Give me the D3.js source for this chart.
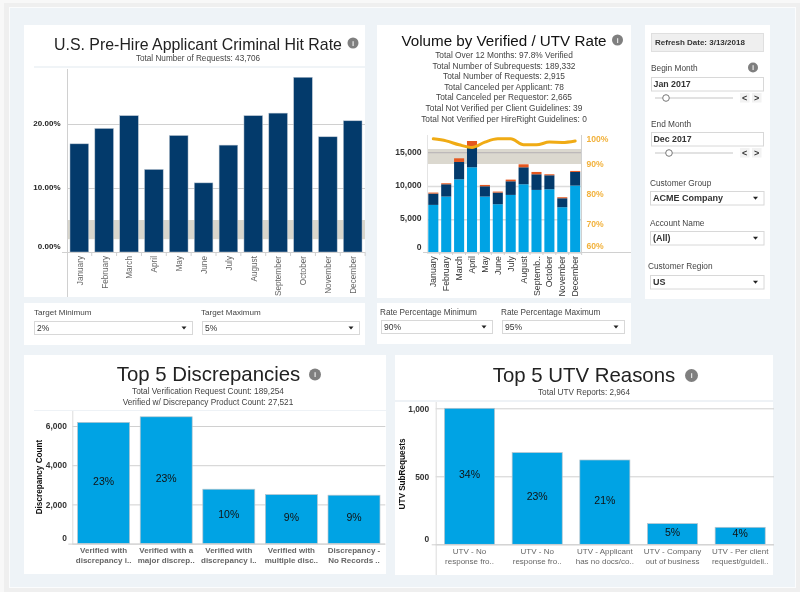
<!DOCTYPE html>
<html><head><meta charset="utf-8">
<script src="https://cdnjs.cloudflare.com/ajax/libs/d3/7.8.5/d3.min.js"></script>
<style>
html,body{margin:0;padding:0;background:#f2f2f2;overflow:hidden}
svg{display:block;filter:blur(.4px)}
text{font-family:"Liberation Sans",Arial,sans-serif}
</style></head><body>
<svg id="c" width="800" height="592"></svg>
<script>
const months=["January","February","March","April","May","June","July","August","September","October","November","December"];
const monthLabels2=["January","February","March","April","May","June","July","August","Septemb..","October","November","December"];
const hitRate=[16.9,19.3,21.3,12.9,18.2,10.8,16.7,21.3,21.7,27.3,18.0,20.5];
const hitTicks=[0,10,20];
const verified=[7150,8400,11000,12800,8400,7250,8650,10250,9400,9500,6800,10050];
const utv=[1700,1850,2600,3100,1550,1750,2050,2550,2350,2100,1350,2050];
const canceled=[150,150,550,850,200,150,250,450,350,150,150,150];
const verifiedRate=[98.4,97.7,96.4,95.5,97.3,98.4,98.4,96.4,96.4,97.3,97.2,97.7];
const volumeTicks=[0,5000,10000,15000];
const rateTicks=[60,70,80,90,100];
const discLabels=[["Verified with","discrepancy i.."],["Verified with a","major discrep.."],["Verified with","discrepancy i.."],["Verified with","multiple disc.."],["Discrepancy -","No Records .."]];
const discValues=[6185,6470,2775,2500,2470];
const discPct=["23%","23%","10%","9%","9%"];
const discTicks=[0,2000,4000,6000];
const utvLabels=[["UTV - No","response fro.."],["UTV - No","response fro.."],["UTV - Applicant","has no docs/co.."],["UTV - Company","out of business"],["UTV - Per client","request/guideli.."]];
const utvValues=[1000,674,620,152,125];
const utvPct=["34%","23%","21%","5%","4%"];
const utvTicks=[0,500,1000];
const volumeLines=["Total Over 12 Months: 97.8% Verified","Total Number of Subrequests: 189,332","Total Number of Requests: 2,915","Total Canceled per Applicant: 78","Total Canceled per Requestor: 2,665","Total Not Verified per Client Guidelines: 39","Total Not Verified per HireRight Guidelines: 0"];

const NAVY="#033a6b",BLUE="#00a3e4",ORANGE="#e4571f",GOLD="#f0ab14",BAND="#d9d6cc",GRID="#d0d0d0";
const svg=d3.select("#c");
const rect=(x0,y0,x1,y1,fill,stroke)=>svg.append("rect").attr("x",x0).attr("y",y0).attr("width",x1-x0).attr("height",y1-y0).attr("fill",fill).attr("stroke",stroke||"none");
const txt=(x,y,s,o={})=>svg.append("text").attr("x",x).attr("y",y).attr("dy",".35em").attr("text-anchor",o.a||"start").attr("font-size",o.s||9).attr("font-weight",o.w||"normal").attr("fill",o.f||"#444").attr("transform",o.r?`rotate(${o.r} ${x} ${y})`:null).text(s);

// page
rect(0,0,800,592,"#f8f8f8");
rect(4,3,800,592,"#efefef");
rect(9,7,796,588,"#fbfcfd");
rect(10,8,795,587,"#eef3f7");
// panels
[[24,25,365,297],[24,303,365,345],[377,25,631,298],[377,303,631,344],[645,25,770,299],[24,355,386,574],[395,355,773,575]].forEach(p=>rect(p[0],p[1],p[2],p[3],"#fff"));
rect(34,66,365,68,"#f0f4f7");
rect(34,410,386,411,"#eef2f6");
rect(395,400,773,402,"#eef2f6");

function info(x,y,r){
  svg.append("circle").attr("cx",x).attr("cy",y).attr("r",r||5.5).attr("fill","#7f7f7f");
  txt(x,y,"i",{a:"middle",s:8,w:"bold",f:"#e8e8e8"});
}
function select(x0,y0,x1,y1,label,bold){
  rect(x0+.5,y0+.5,x1-.5,y1-.5,"#fff","#d8d8d8");
  txt(x0+3,(y0+y1)/2,label,{s:bold?9:8.5,w:bold?"bold":"normal",f:"#333"});
  const c=x1-9,m=(y0+y1)/2;
  svg.append("path").attr("d",`M${c-2.5},${m-1.5}L${c+2.5},${m-1.5}L${c},${m+1.5}Z`).attr("fill","#222");
}
function styleAxis(g,color,weight,size){
  g.select(".domain").remove();
  g.selectAll("text").attr("font-size",size).attr("font-weight",weight).attr("fill",color).attr("font-family",'"Liberation Sans",Arial,sans-serif');
}
function nudge(g,map){g.selectAll("text").attr("transform",d=>map[d]?`translate(0,${map[d]})`:null);}

// ---------- Chart 1
txt(198,44,"U.S. Pre-Hire Applicant Criminal Hit Rate",{a:"middle",s:15.9,f:"#222"});
info(353,43,5.5);
txt(198,58,"Total Number of Requests: 43,706",{a:"middle",s:8.2});
{
  const x=d3.scaleBand().domain(months).range([67,365]).paddingInner(.25).paddingOuter(.12);
  const y=d3.scaleLinear().domain([0,30]).range([252,60]);
  rect(67,y(5),365,y(2),BAND);
  const g=svg.append("g").attr("transform","translate(67,0)").call(d3.axisLeft(y).tickValues(hitTicks).tickSize(-298).tickPadding(6.5).tickFormat(d=>d.toFixed(2)+"%"));
  styleAxis(g,"#222","bold",8); g.selectAll("line").attr("stroke",GRID);
  nudge(g,{0:-6,20:-1,10:-1});
  svg.append("g").selectAll("rect").data(hitRate).join("rect").attr("x",(d,i)=>x(months[i])).attr("width",x.bandwidth()).attr("y",d=>y(d)).attr("height",d=>252-y(d)).attr("fill",NAVY).attr("stroke","#b9c4d0").attr("stroke-width",.5);
  svg.append("line").attr("x1",67.5).attr("x2",67.5).attr("y1",69).attr("y2",297).attr("stroke",GRID);
  svg.append("line").attr("x1",62).attr("x2",365).attr("y1",252.5).attr("y2",252.5).attr("stroke",GRID);
  months.forEach((m,i)=>{
    const c=x(m)+x.bandwidth()/2;
    svg.append("line").attr("x1",c+x.step()/2).attr("x2",c+x.step()/2).attr("y1",252).attr("y2",256).attr("stroke",GRID);
    txt(c+.5,256,m,{a:"end",s:8.2,r:-90,f:"#666"});
  });
}
// filters 1
txt(34,312,"Target Minimum",{s:8.1});txt(201,312,"Target Maximum",{s:8.1});
select(34,321,193,335,"2%");select(202,321,360,335,"5%");

// ---------- Chart 2
txt(504,41,"Volume by Verified / UTV Rate",{a:"middle",s:15.2,f:"#111"});
info(617.5,40,5.5);
volumeLines.forEach((l,i)=>txt(504,55+i*10.6,l,{a:"middle",s:8.35}));
{
  const x=d3.scaleBand().domain(d3.range(12)).range([427,581.5]).paddingInner(.22).paddingOuter(.1);
  const y=d3.scaleLinear().domain([0,17500]).range([252.5,136]);
  const r=d3.scaleLinear().domain([60,100]).range([254,134]);
  const g=svg.append("g").attr("transform","translate(427,0)").call(d3.axisLeft(y).tickValues(volumeTicks).tickSize(-154.5).tickPadding(5.5).tickFormat(d3.format(",")));
  styleAxis(g,"#333","bold",8.6); g.selectAll("line").attr("stroke","#dcdcdc").attr("stroke-width",1.5);
  nudge(g,{0:-6,5000:-1,10000:-1,15000:-1});
  rect(427,r(95),581.5,r(90),BAND).attr("opacity",.95);
  svg.append("line").attr("x1",427).attr("x2",581.5).attr("y1",y(15000)).attr("y2",y(15000)).attr("stroke","#bdb9ba").attr("stroke-width",1.2);
  const stack=d3.stack().keys([0,1,2]).value((d,k)=>d[k])(d3.zip(verified,utv,canceled));
  [BLUE,NAVY,ORANGE].forEach((c,k)=>{
    svg.append("g").selectAll("rect").data(stack[k]).join("rect").attr("x",(d,i)=>x(i)).attr("width",x.bandwidth()).attr("y",d=>y(d[1])).attr("height",d=>y(d[0])-y(d[1])).attr("fill",c);
  });
  svg.append("path").datum(verifiedRate).attr("fill","none").attr("stroke",GOLD).attr("stroke-width",3).attr("stroke-linecap","round").attr("d",d3.line().x((d,i)=>x(i)+x.bandwidth()/2).y(d=>r(d)).curve(d3.curveMonotoneX));
  const ra=svg.append("g").attr("transform","translate(581.5,0)").call(d3.axisRight(r).tickValues(rateTicks).tickSize(0).tickPadding(5).tickFormat(d=>d+"%"));
  styleAxis(ra,"#f2b23c","bold",8.6);
  nudge(ra,{60:-8,100:5});
  svg.append("line").attr("x1",581.5).attr("x2",581.5).attr("y1",135).attr("y2",252).attr("stroke",GRID);
  svg.append("line").attr("x1",427.5).attr("x2",427.5).attr("y1",135).attr("y2",252).attr("stroke","#e4e4e4");
  svg.append("line").attr("x1",423).attr("x2",631).attr("y1",252.5).attr("y2",252.5).attr("stroke",GRID);
  monthLabels2.forEach((m,i)=>{
    const c=x(i)+x.bandwidth()/2;
    svg.append("line").attr("x1",c+x.step()/2).attr("x2",c+x.step()/2).attr("y1",252).attr("y2",255).attr("stroke",GRID);
    txt(c,256,m,{a:"end",s:8.8,r:-90,f:"#333"});
  });
}
// filters 2
txt(380,312,"Rate Percentage Minimum",{s:8.2});txt(501,312,"Rate Percentage Maximum",{s:8.2});
select(381,320,493,334,"90%");select(502,320,625,334,"95%");

// ---------- Sidebar
rect(651.5,33.5,763.5,51.5,"#efefef","#dfdfdf");
txt(655,42.5,"Refresh Date: 3/13/2018",{s:8,w:"bold",f:"#333"});
function month(yBox,label,knob){
  rect(651.5,yBox+.5,763.5,yBox+14,"#fff","#d8d8d8");
  txt(653.5,yBox+7.3,label,{s:8.8,w:"bold",f:"#333"});
  const s=yBox+21;
  svg.append("line").attr("x1",655).attr("x2",733).attr("y1",s).attr("y2",s).attr("stroke","#e2e2e2").attr("stroke-width",2);
  svg.append("circle").attr("cx",knob).attr("cy",s).attr("r",3.3).attr("fill","#fff").attr("stroke","#777");
  rect(740,s-5,749.5,s+4.5,"#f2f2f2");rect(752,s-5,761.5,s+4.5,"#f2f2f2");
  txt(744.7,s,"<",{a:"middle",s:9,w:"bold",f:"#333"});txt(756.7,s,">",{a:"middle",s:9,w:"bold",f:"#333"});
}
txt(651,68.5,"Begin Month",{s:8.3});info(753,67.5,5);
month(77,"Jan 2017",666);
txt(651,124,"End Month",{s:8.3});
month(132,"Dec 2017",669);
txt(650,183,"Customer Group",{s:8.3});select(650,191,764.5,205.5,"ACME Company",true);
txt(650,223,"Account Name",{s:8.3});select(650,231,764.5,245.5,"(All)",true);
txt(648,266,"Customer Region",{s:8.3});select(650,275,764.5,289.5,"US",true);

// ---------- Top-5 charts
function top5(o){
  const x=d3.scaleBand().domain(d3.range(o.values.length)).range([o.x0,o.x1]).paddingInner(o.pad).paddingOuter(o.pad/2);
  const y=d3.scaleLinear().domain([0,o.max]).range([o.base,o.top]);
  const g=svg.append("g").attr("transform",`translate(${o.x0},0)`).call(d3.axisLeft(y).tickValues(o.ticks).tickSize(-(o.x1-o.x0)).tickPadding(o.padL).tickFormat(d3.format(",")));
  styleAxis(g,"#333","bold",8.4); g.selectAll("line").attr("stroke",GRID);
  nudge(g,{0:-6});
  svg.append("g").selectAll("rect").data(o.values).join("rect").attr("x",(d,i)=>x(i)).attr("width",x.bandwidth()).attr("y",d=>y(d)).attr("height",d=>o.base-y(d)).attr("fill",BLUE).attr("stroke","#b7c4cc").attr("stroke-width",.7);
  svg.append("g").selectAll("text").data(o.values).join("text").attr("x",(d,i)=>x(i)+x.bandwidth()/2).attr("y",d=>(y(d)+o.base)/2-2).attr("dy",".35em").attr("text-anchor","middle").attr("font-size",10.5).attr("fill","#111").text((d,i)=>o.pct[i]);
  svg.append("line").attr("x1",o.x0+.5).attr("x2",o.x0+.5).attr("y1",o.vTop).attr("y2",o.vBot).attr("stroke","#dcdcdc");
  svg.append("line").attr("x1",o.x0-4).attr("x2",o.x1).attr("y1",o.base+.5).attr("y2",o.base+.5).attr("stroke",GRID);
  o.labels.forEach((l,i)=>l.forEach((s,j)=>txt(x(i)+x.bandwidth()/2,o.base+7+j*10,s,{a:"middle",s:8,w:o.lw,f:"#666"})));
  txt(o.tx,o.ty,o.axisTitle,{a:"middle",s:8.2,w:"bold",r:-90,f:"#111"});
}
txt(208.5,374,"Top 5 Discrepancies",{a:"middle",s:20.4,f:"#222"});info(315,374.5,6);
txt(208,391,"Total Verification Request Count: 189,254",{a:"middle",s:8.25});
txt(208,402,"Verified w/ Discrepancy Product Count: 27,521",{a:"middle",s:8.25});
top5({values:discValues,labels:discLabels,pct:discPct,ticks:discTicks,max:6000,base:543.6,top:426,x0:72.3,x1:385.3,pad:.17,padL:5.5,vTop:411,vBot:544,lw:"bold",axisTitle:"Discrepancy Count",tx:39,ty:477});
txt(584,375,"Top 5 UTV Reasons",{a:"middle",s:20.4,f:"#222"});info(691.5,375.5,6.5);
txt(584,392.5,"Total UTV Reports: 2,964",{a:"middle",s:8.2});
top5({values:utvValues,labels:utvLabels,pct:utvPct,ticks:utvTicks,max:1000,base:544.3,top:408.3,x0:435.7,x1:774,pad:.26,padL:6.5,vTop:402,vBot:575,lw:"normal",axisTitle:"UTV SubRequests",tx:402,ty:474});
</script></body></html>
